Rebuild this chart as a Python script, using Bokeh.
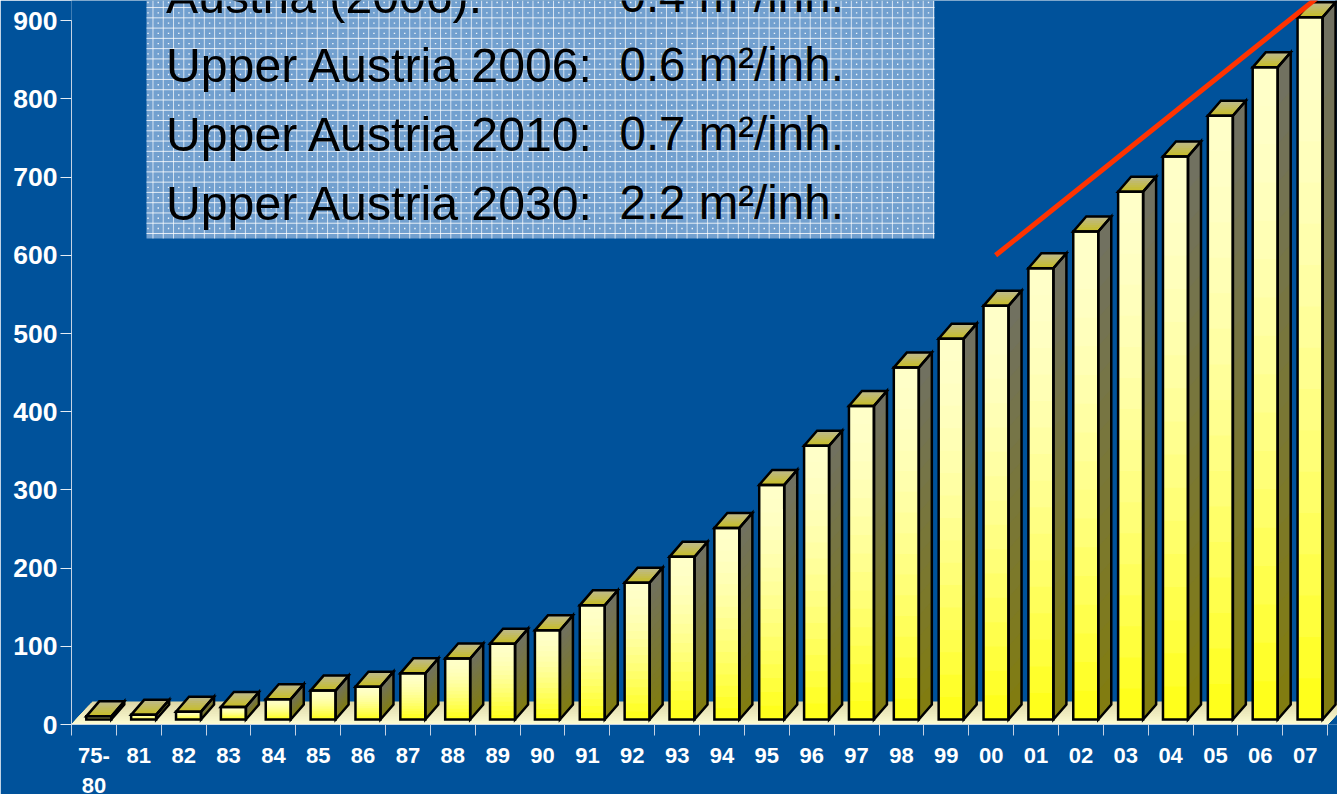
import numpy as np
from bokeh.embed import file_html
from bokeh.models import FixedTicker, Range1d
from bokeh.plotting import figure
from bokeh.resources import INLINE
from bokeh.core.properties import value

categories = ["75-\n80", "81", "82", "83", "84", "85", "86", "87", "88", "89", "90", "91", "92", "93",
              "94", "95", "96", "97", "98", "99", "00", "01", "02", "03", "04", "05", "06", "07"]
values = [4, 6, 10, 16, 26, 37, 42, 59, 78, 97, 114, 146, 175, 208,
          245, 300, 350, 401, 450, 487, 529, 577, 624, 675, 720, 772, 834, 898]
y_ticks = [0, 100, 200, 300, 400, 500, 600, 700, 800, 900]
trend_x = [20.6, 28.0]
trend_y = [600, 940]
box_left = ["Austria (2006):", "Upper Austria 2006:", "Upper Austria 2010:", "Upper Austria 2030:"]
box_right = ["0.4 m²/inh.", "0.6 m²/inh.", "0.7 m²/inh.", "2.2 m²/inh."]

BG = "#00529b"
PX_X = 1266 / 28.22          # px per category
PX_Y = 0.782                 # px per value unit
ymax = 724 / PX_Y
xmax = 1266 / PX_X
xp = lambda px: (px - 71) / PX_X
yp = lambda py: (724 - py) / PX_Y
hx = lambda px: px / PX_X
hy = lambda py: py / PX_Y

p = figure(width=1337, height=794, frame_width=1266, frame_height=724,
           x_range=Range1d(0, xmax), y_range=Range1d(0, ymax),
           output_backend="svg", toolbar_location=None,
           background_fill_color=BG, border_fill_color=BG,
           min_border_left=71, min_border_right=0, min_border_top=0, min_border_bottom=70,
           outline_line_color=None)
p.styles = {"position": "absolute", "left": "0px", "top": "0px"}
p.grid.visible = False


def mix(a, b, t):
    return "#%02x%02x%02x" % tuple(int(round(a[i] + (b[i] - a[i]) * t)) for i in range(3))


# axes
ya = p.yaxis[0]
ya.ticker = FixedTicker(ticks=y_ticks)
ya.bounds = (0, 900)
ya.axis_line_color = "#c4d2e4"
ya.axis_line_width = 1
ya.major_tick_line_color = "#e4ecf4"
ya.major_tick_in = 0
ya.major_tick_out = 11
ya.minor_tick_line_color = None
ya.major_label_text_color = "white"
ya.major_label_text_font = "Liberation Sans"
ya.major_label_text_font_style = "bold"
ya.major_label_text_font_size = "26.5px"
ya.major_label_standoff = 3

xa = p.xaxis[0]
centers = [i + 0.5 for i in range(len(categories))]
xa.ticker = FixedTicker(ticks=centers, minor_ticks=list(range(len(categories) + 1)))
xa.major_label_overrides = {c: l for c, l in zip(centers, categories)}
xa.bounds = (0, 28)
xa.axis_line_color = "#c4d2e4"
xa.major_tick_line_color = None
xa.minor_tick_line_color = "#c4d2e4"
xa.minor_tick_in = 0
xa.minor_tick_out = 11
xa.major_label_text_color = "white"
xa.major_label_text_font = "Liberation Sans"
xa.major_label_text_font_style = "bold"
xa.major_label_text_font_size = "22px"
xa.major_label_standoff = 7

# floor
BASE = hy(5)
fl_dx, fl_dy = hx(21), hy(23)
fl_front, fl_back = (255, 255, 214), (222, 216, 168)
n = 14
for k in range(n):
    t = k / (n - 1)
    d = 1 - t
    ex = fl_dx * d
    ey = fl_dy * d
    p.patch([0, 28, 28 + ex, ex], [0, 0, ey, ey], fill_color=mix(fl_front, fl_back, d), line_color=None)

# bars
dx, dy = hx(13), hy(15)
w = 25 / PX_X
off = 14.8 / PX_X
N = 18
for i, v in enumerate(values):
    x0 = i + off
    x1 = x0 + w
    top = BASE + v
    # side face
    for k in range(N):
        t = k / (N - 1)
        yt = BASE + v * (1 - t)
        p.patch([x1, x1 + dx, x1 + dx, x1], [BASE, BASE + dy, yt + dy, yt],
                fill_color=mix((113, 113, 96), (130, 125, 12), t), line_color=None)
    # top face
    for k in range(8):
        t = k / 7
        d = 1 - t
        p.patch([x0, x1, x1 + dx * d, x0 + dx * d], [top, top, top + dy * d, top + dy * d],
                fill_color=mix((200, 190, 25), (190, 185, 138), d), line_color=None)
    # front face
    for k in range(N):
        t = k / (N - 1)
        yt = BASE + v * (1 - t)
        p.quad(left=x0, right=x1, bottom=BASE, top=yt,
               fill_color=mix((255, 255, 200), (255, 255, 10), t ** 1.6), line_color=None)
    for xs, ys in (
        ([x1, x1 + dx, x1 + dx, x1], [BASE, BASE + dy, top + dy, top]),
        ([x0, x1, x1 + dx, x0 + dx], [top, top, top + dy, top + dy]),
        ([x0, x1, x1, x0], [BASE, BASE, top, top]),
    ):
        p.patch(xs, ys, fill_color=None, line_color="black", line_width=2.5, line_join="miter")

# text box with woven pattern
bx0, bx1 = xp(146), xp(934)
by0, by1 = yp(238), ymax
p.quad(left=bx0, right=bx1, bottom=by0, top=by1, fill_color="#72a0cf", line_color=None)
gx = [933 - 10.27 * k for k in range(77)]
gy = [233 - 10.27 * k for k in range(23)]
p.multi_line([[xp(g), xp(g)] for g in gx], [[by0, by1] for g in gx],
             line_color="white", line_alpha=0.7, line_width=1)
p.multi_line([[bx0, bx1] for g in gy], [[yp(g), yp(g)] for g in gy],
             line_color="white", line_alpha=0.8, line_width=1)
dots_x = [xp(g - 5) for g in gx for h in gy]
dots_y = [yp(h - 5) for g in gx for h in gy]
p.scatter(dots_x, dots_y, marker="square", size=1.4, fill_color="white", fill_alpha=0.9, line_color=None)

base_y = [-5, 64, 133, 202]
for a, b, py in zip(box_left, box_right, base_y):
    p.text(x=[xp(165.5)], y=[yp(py)], text=[a], text_font=value("Liberation Sans"),
           text_font_size="48.2px", text_color="black", text_baseline="alphabetic")
    p.text(x=[xp(619)], y=[yp(py)], text=[b], text_font=value("Liberation Sans"),
           text_font_size="47.5px", text_color="black", text_baseline="alphabetic")

# trend line
p.line(trend_x, trend_y, line_color="#ff3300", line_width=5)

open("out.html", "w").write(file_html(p, INLINE))
